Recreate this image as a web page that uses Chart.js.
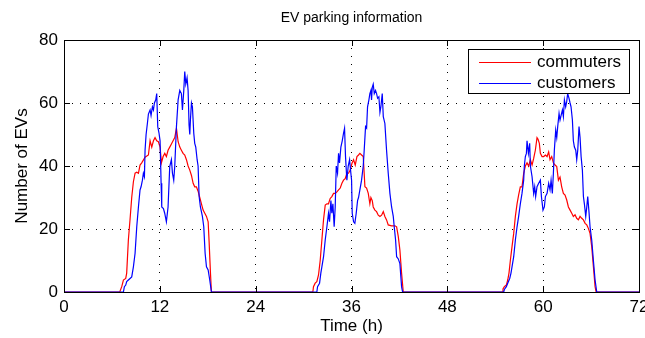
<!DOCTYPE html>
<html>
<head>
<meta charset="utf-8">
<script src="https://cdn.jsdelivr.net/npm/chart.js@4"></script>
<style>
  body { margin: 0; background: #fff; }
  canvas { display: block; }
</style>
</head>
<body>
<canvas id="evChart" width="645" height="338"></canvas>
<script>
// hours and counts for the three working days (zero stretches only keep their ends)
const commuterHours = [
  0, 6.98, 7.23, 7.44, 7.73, 7.85, 8.06, 8.27, 8.48, 8.69, 8.9, 9.11, 9.32, 9.52, 9.73, 10.15, 10.57, 10.78,
  10.99, 11.2, 11.4, 11.61, 11.82, 12.03, 12.2, 12.41, 12.62, 12.82, 13.03, 13.24, 13.45, 13.66, 13.87, 14.08,
  14.29, 14.5, 14.7, 14.91, 15.12, 15.33, 15.54, 15.75, 15.96, 16.17, 16.37, 16.58, 16.79, 17, 17.21, 17.42,
  17.63, 17.84, 18.05, 18.17, 18.34, 18.46,
  31.16, 31.24, 31.45, 31.66, 31.87, 32.08, 32.29, 32.5, 32.71, 32.92, 33.12, 33.33, 33.54, 33.75, 33.96, 34.17,
  34.38, 34.59, 34.8, 35, 35.21, 35.42, 35.63, 35.84, 36.05, 36.26, 36.47, 36.68, 36.88, 37.05, 37.26, 37.47,
  37.68, 37.89, 38.1, 38.3, 38.43, 38.6, 38.72, 38.93, 39.14, 39.35, 39.56, 39.77, 39.98, 40.18, 40.39, 40.6,
  41.02, 41.44, 41.65, 41.86, 42.06, 42.27, 42.48,
  54.85, 54.97, 55.14, 55.39, 55.56, 55.72, 55.89, 56.1, 56.31, 56.52, 56.73, 56.93, 57.14, 57.35, 57.56, 57.77,
  57.98, 58.19, 58.4, 58.61, 58.81, 59.02, 59.23, 59.36, 59.52, 59.65, 59.86, 60.07, 60.28, 60.49, 60.69, 60.86,
  61.07, 61.28, 61.49, 61.7, 61.91, 62.11, 62.32, 62.53, 62.74, 62.95, 63.16, 63.37, 63.58, 63.78, 63.99, 64.2,
  64.41, 64.62, 64.83, 65.04, 65.25, 65.46, 65.66, 65.87, 66.08, 66.29, 66.5, 66.63, 72
];
const commuterCounts = [
  0, 0, 1.7, 3.8, 4.3, 6, 16.5, 23, 30, 35, 37.7, 38, 37.7, 40.3, 41, 42.8, 43.5, 48,
  46, 48, 49, 48, 47.7, 46, 41, 43, 44, 43, 45, 46, 47, 48, 49, 52,
  47.7, 46, 45, 44, 43.5, 42, 40, 38.7, 37, 34.5, 33.4, 33.4, 32, 30, 28, 26,
  25, 24, 22.3, 16, 6, 0,
  0, 1.7, 2.8, 3.3, 5.4, 10, 16.5, 23, 27.6, 28, 28, 29.7, 30.3, 31.3, 31.3, 31.8,
  32.4, 33, 34.5, 35.5, 36, 37.7, 37.7, 38.7, 40.8, 42, 40.3, 43, 43.5, 44, 43.5, 43,
  33.4, 33, 31.3, 28, 30, 29, 27, 26, 25.5, 24.4, 24, 24.4, 25.5, 24, 22.9, 21.3,
  21, 21, 20.7, 17.6, 13.3, 6, 0,
  0, 1, 1.7, 2.2, 3.8, 6, 10, 14.4, 18.6, 24, 28, 30.8, 33.4, 33.4, 37.7, 40,
  41, 40, 42, 40.3, 42.4, 45, 49, 48.5, 47.2, 44, 43, 43, 43.5, 43, 44.5, 42,
  43, 41, 40.3, 39.8, 35.5, 36.5, 33.4, 31.3, 30.8, 29.2, 27, 26, 25, 24, 24.5, 23.4,
  22.9, 24, 23.4, 22.9, 21.8, 21.3, 20.2, 18.6, 14.4, 8, 1.7, 0, 0
];

const customerHours = [
  0, 7.44, 7.56, 7.73, 7.85, 8.06, 8.27, 8.48, 8.69, 8.9, 9.11, 9.32, 9.52, 9.65, 9.82, 9.94, 10.07, 10.15,
  10.28, 10.44, 10.57, 10.78, 10.9, 11.07, 11.2, 11.32, 11.49, 11.61, 11.74, 11.9, 12.03, 12.16, 12.24, 12.45,
  12.61, 12.82, 13.03, 13.24, 13.45, 13.58, 13.74, 13.87, 14.08, 14.29, 14.5, 14.7, 14.83, 15, 15.12, 15.25,
  15.41, 15.54, 15.66, 15.75, 15.83, 15.96, 16.08, 16.25, 16.37, 16.5, 16.67, 16.79, 16.92, 17.08, 17.33, 17.5,
  17.67, 17.84, 18.05, 18.25, 18.46,
  31.66, 31.75, 32, 32.16, 32.29, 32.5, 32.71, 32.92, 33.12, 33.25, 33.42, 33.54, 33.67, 33.83, 33.96, 34.09,
  34.25, 34.38, 34.5, 34.67, 34.84, 35, 35.13, 35.25, 35.42, 35.59, 35.76, 35.92, 36.01, 36.09, 36.26, 36.42,
  36.59, 36.76, 36.88, 37.05, 37.26, 37.47, 37.59, 37.76, 37.89, 38.01, 38.18, 38.3, 38.43, 38.51, 38.6, 38.72,
  38.85, 39.01, 39.14, 39.27, 39.43, 39.56, 39.68, 39.85, 39.98, 40.18, 40.39, 40.6, 40.81, 41.02, 41.23, 41.35,
  41.52, 41.65, 41.86, 42.06, 42.27, 42.4,
  55.06, 55.14, 55.39, 55.56, 55.81, 55.97, 56.1, 56.31, 56.52, 56.73, 56.93, 57.14, 57.35, 57.56, 57.64, 57.77,
  57.9, 57.98, 58.15, 58.31, 58.4, 58.61, 58.81, 58.94, 59.06, 59.23, 59.44, 59.65, 59.78, 59.98, 60.15, 60.28,
  60.49, 60.69, 60.86, 60.99, 61.15, 61.28, 61.4, 61.57, 61.7, 61.82, 61.99, 62.11, 62.24, 62.41, 62.53, 62.66,
  62.82, 62.95, 63.07, 63.24, 63.37, 63.49, 63.66, 63.78, 63.91, 64.08, 64.2, 64.33, 64.49, 64.62, 64.75, 64.91,
  65.04, 65.16, 65.33, 65.46, 65.58, 65.75, 65.87, 66.08, 66.29, 66.5, 66.71, 72
];
const customerCounts = [
  0, 0, 1.7, 2.2, 3.3, 3.8, 4.3, 4.8, 8, 12.3, 20.7, 27, 32.4, 33.4, 35.5, 37.7, 36.6, 45,
  50, 53.5, 56.5, 57.8, 56, 58.8, 57.8, 60, 61, 63, 52.5, 50.4, 48, 34.5, 27, 26.5,
  25, 22.3, 27, 39.8, 42, 37.7, 35.5, 40, 52.5, 61, 64, 63, 57.8, 64, 70, 66,
  68, 64, 53, 50, 54.6, 60, 58.8, 50.4, 47.2, 46, 42, 40, 30.3, 27, 24, 20.7,
  12.3, 8, 7, 3.8, 0,
  0, 1.7, 2.8, 6, 8, 11.2, 16.5, 20.7, 25, 22.3, 29, 25, 28, 20.7, 27, 40,
  37.7, 44, 41, 46, 48, 50.4, 52, 43, 35.5, 40, 42, 37.7, 35.5, 25, 22.3, 21.8,
  25, 29, 30, 32.4, 35.5, 40, 45, 52.5, 52, 58.8, 61, 63, 64, 61, 65, 66,
  63, 64, 63, 61.5, 62, 57, 58.8, 63, 55.7, 53.5, 45, 37.7, 31.3, 27, 24, 20.7,
  16.5, 11.2, 10.5, 9, 1.7, 0,
  0, 0.8, 1.7, 2.8, 4.3, 6, 8, 11.2, 16.5, 20.7, 24, 28, 31.3, 35.5, 40, 43,
  44, 48, 44, 47.2, 40, 36.6, 31.3, 33.4, 30.3, 33.4, 34.5, 35.5, 30.3, 26, 27, 30.3,
  31.3, 34.5, 32.4, 35.5, 31.3, 37.7, 45, 51.4, 49, 52.5, 56.7, 54.6, 56, 57.8, 55.7, 61,
  58.8, 60.5, 63, 61.5, 60, 58.8, 54.6, 48, 46, 45, 42, 45, 52.5, 49, 43, 38.7,
  30.3, 28, 24, 27, 30.3, 25, 20.7, 16.5, 10, 3.8, 0, 0
];

const hourTicks = [0, 12, 24, 36, 48, 60, 72];
const evTicks = [0, 20, 40, 60, 80];

const FONT = "'Liberation Sans', Arial, Helvetica, sans-serif";

function toPoints(xs, ys) {
  return xs.map((x, i) => ({ x: x, y: ys[i] }));
}

// box round the axes, inward tick marks on all four sides, and the legend
const matlabAxes = {
  id: "matlabAxes",
  afterDatasetsDraw(chart) {
    const { ctx, chartArea: a, scales } = chart;
    const tick = 6;
    ctx.save();
    ctx.strokeStyle = "#000";
    ctx.lineWidth = 1;
    ctx.beginPath();
    hourTicks.forEach((v) => {
      const px = Math.round(scales.x.getPixelForValue(v)) + 0.5;
      ctx.moveTo(px, a.bottom); ctx.lineTo(px, a.bottom - tick);
      ctx.moveTo(px, a.top); ctx.lineTo(px, a.top + tick);
    });
    evTicks.forEach((v) => {
      const py = Math.round(scales.y.getPixelForValue(v)) + 0.5;
      ctx.moveTo(a.left, py); ctx.lineTo(a.left + tick, py);
      ctx.moveTo(a.right, py); ctx.lineTo(a.right - tick, py);
    });
    ctx.stroke();
    ctx.strokeRect(Math.round(a.left) + 0.5, Math.round(a.top) + 0.5,
      Math.round(a.right - a.left), Math.round(a.bottom - a.top));

    // legend box
    const lx = 468.5, ly = 49.5, lw = 161, lh = 44;
    ctx.fillStyle = "#fff";
    ctx.fillRect(lx, ly, lw, lh);
    ctx.strokeRect(lx, ly, lw, lh);
    ctx.font = "17px " + FONT;
    ctx.textBaseline = "middle";
    ctx.textAlign = "left";
    chart.data.datasets.forEach((ds, i) => {
      const y = 62.5 + i * 21;
      ctx.strokeStyle = ds.borderColor;
      ctx.beginPath();
      ctx.moveTo(479, y); ctx.lineTo(531, y);
      ctx.stroke();
      ctx.fillStyle = "#000";
      ctx.fillText(ds.label, 537, y);
    });
    ctx.restore();
  }
};

const ctx = document.getElementById("evChart").getContext("2d");
const evChart = new Chart(ctx, {
  type: "line",
  data: {
    datasets: [
      {
        label: "commuters",
        data: toPoints(commuterHours, commuterCounts),
        borderColor: "#ff0000",
        borderWidth: 1.2,
        pointRadius: 0,
        fill: false,
        order: 1,
      },
      {
        label: "customers",
        data: toPoints(customerHours, customerCounts),
        borderColor: "#0000ff",
        borderWidth: 1.2,
        pointRadius: 0,
        fill: false,
        order: 0,
      },
    ],
  },
  options: {
    responsive: false,
    animation: false,
    devicePixelRatio: 1,
    layout: { padding: { left: 0, right: 6, top: 0, bottom: 0 } },
    plugins: {
      legend: { display: false },
      tooltip: { enabled: false },
      title: {
        display: true,
        fullSize: false,
        text: "EV parking information",
        color: "#000",
        font: { family: FONT, size: 14, weight: "normal" },
        padding: { top: 10, bottom: 13.2 },
      },
    },
    scales: {
      x: {
        type: "linear",
        min: 0,
        max: 72,
        afterBuildTicks(scale) {
          scale.ticks = hourTicks.map((v) => ({ value: v }));
        },
        afterFit(scale) {
          // the end labels may run past the plot edge, as they do in MATLAB
          scale.height = 46;
          scale.paddingLeft = 0;
          scale.paddingRight = 0;
        },
        ticks: {
          color: "#000",
          font: { family: FONT, size: 17 },
          padding: 5,
          maxRotation: 0,
        },
        grid: { color: "#000", lineWidth: 1, drawTicks: false },
        border: { display: false, dash: [1, 7] },
        title: {
          display: true,
          text: "Time (h)",
          color: "#000",
          font: { family: FONT, size: 17 },
          padding: { top: 0, bottom: 1 },
        },
      },
      y: {
        min: 0,
        max: 80,
        afterBuildTicks(scale) {
          scale.ticks = evTicks.map((v) => ({ value: v }));
        },
        afterFit(scale) {
          scale.width = 64;
          scale.paddingTop = 0;
          scale.paddingBottom = 0;
        },
        ticks: {
          color: "#000",
          font: { family: FONT, size: 17 },
          padding: 6,
        },
        grid: { color: "#000", lineWidth: 1, drawTicks: false },
        border: { display: false, dash: [1, 7] },
        title: {
          display: true,
          text: "Number of EVs",
          color: "#000",
          font: { family: FONT, size: 17 },
          padding: { top: 12, bottom: 0 },
        },
      },
    },
  },
  plugins: [matlabAxes],
});
</script>
</body>
</html>
